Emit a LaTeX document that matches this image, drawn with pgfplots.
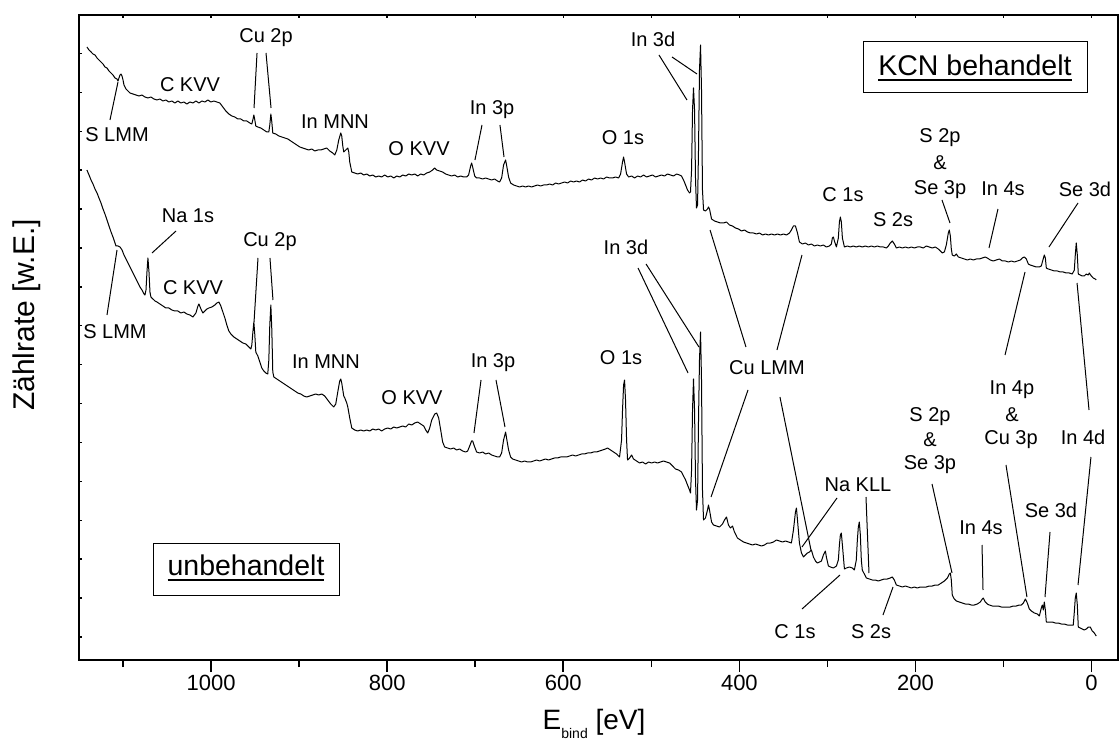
\documentclass[border=0pt]{standalone}
\usepackage{fontspec}
\setmainfont{Liberation Sans}
\usepackage{pgfplots}
\pgfplotsset{compat=1.18}
\newcommand\ann{\fontsize{20}{24}\selectfont}
\newcommand\ul[1]{\setbox0\hbox{#1}\rlap{\rule[-5pt]{\wd0}{2pt}}\box0}
\begin{document}
\begin{tikzpicture}
\path[use as bounding box] (0,0) rectangle (1119pt,742pt);
\begin{axis}[at={(79pt,82pt)}, anchor=south west, scale only axis,
  width=1039pt, height=645pt,
  xmin=-30, xmax=1150, ymin=0, ymax=645, x dir=reverse,
  axis line style={line width=1.6pt},
  xtick={0,200,400,600,800,1000}, minor xtick={100,300,500,700,900,1100},
  xtick pos=left, ytick=\empty,
  tick align=outside, major tick length=12pt, minor tick length=7pt,
  tick style={line width=1.6pt, black},
  xticklabel style={font=\fontsize{22}{26}\selectfont},
  /pgf/number format/1000 sep={}, /pgf/number format/assume math mode=true,
  xlabel={E\raisebox{-8.5pt}{\fontsize{14}{14}\selectfont bind} [eV]},
  xlabel style={font=\fontsize{28}{32}\selectfont, at={(axis description cs:0.4957,-0.1085)}, anchor=base},
  ylabel={Zählrate [w.E.]},
  ylabel style={font=\fontsize{30}{34}\selectfont, at={(axis description cs:-0.050,0.535)}, anchor=center},
  clip=false]
% KCN behandelt
\addplot[black, line width=1pt, line join=round] coordinates {
(1141,613)(1138.6,610)(1136.3,608)(1134.1,606)(1131.8,605)(1129.5,602)(1127.3,600)(1125.0,598)(1122.7,596)(1120.5,593)(1118.2,592)(1115.9,589)(1113.6,587)(1111.4,585)(1109.1,582)(1106.8,581)(1105.7,579)(1104.6,582)(1103.4,585)(1102.3,586)(1101.1,584)(1100.0,580)(1098.9,575)(1096.6,571)(1094.3,569)(1092.1,567)
(1088.7,566)(1085.3,565)(1081.9,564)(1078.5,565)(1075.1,563)(1071.7,562)(1068.3,563)(1064.9,561)(1061.5,560)(1058.1,561)(1054.7,559)(1051.3,560)(1047.9,558)(1044.5,559)(1041.1,557)(1037.7,559)(1034.3,557)(1030.9,558)(1027.5,556)(1024.0,558)(1020.6,557)(1017.2,559)(1013.8,557)(1010.4,559)(1007.0,558)(1003.6,560)(1000.2,558)(996.8,559)(993.4,558)(990.0,557)
(986.6,553)(983.2,549)(979.8,546)(976.4,544)(973.0,543)(969.6,541)(966.2,541)(962.8,539)(959.4,539)(956.0,537)(953.7,536)(952.6,540)(951.4,545)(950.3,540)(949.2,534)(946.9,533)(943.5,532)(940.1,530)(936.7,528)(934.4,528)(933.3,535)(932.1,546)(931.0,538)(929.9,527)
(926.5,526)(923.0,524)(919.6,523)(916.2,522)(912.8,521)(909.4,519)(906.0,517)(902.6,515)(899.2,513)(895.8,512)(892.4,511)(889.0,510)(885.6,511)(882.2,509)(878.8,510)(875.4,510)(872.0,511)(868.6,512)(865.2,509)(861.8,507)(859.5,505)(857.2,510)(855.0,520)(852.7,527)(851.6,524)(850.4,514)(849.3,508)(847.0,510)(844.7,512)(843.6,508)(842.5,498)(840.2,488)
(836.8,487)(833.4,486)(830.0,487)(826.6,485)(823.2,486)(819.8,484)(816.4,485)(813.0,483)(809.6,484)(806.2,483)(802.8,485)(799.3,483)(795.9,484)(792.5,482)(789.1,484)(785.7,483)(782.3,485)(778.9,484)(775.5,486)(772.1,485)(768.7,486)(765.3,484)(761.9,486)(758.5,485)(755.1,487)(751.7,488)(748.3,490)(746.0,492)(743.8,490)(740.4,489)(737.0,488)(733.6,486)(730.2,485)(726.8,484)(723.3,485)(719.9,483)(716.5,484)(713.1,483)(709.7,483)(707.5,485)(705.2,494)(704.1,497)(702.9,493)(700.6,484)(698.4,482)
(695.0,482)(691.6,481)(688.2,482)(684.8,481)(681.4,480)(678.0,481)(674.6,479)(672.3,478)(670.0,482)(667.8,495)(665.5,500)(664.4,495)(662.1,483)(659.8,477)(656.4,475)(653.0,474)(649.6,473)(646.2,474)(642.8,473)(639.4,474)(636.0,473)(632.6,474)(629.2,475)(625.7,474)(622.3,475)(618.9,475)(615.5,476)(612.1,475)(608.7,477)(605.3,476)(601.9,477)(598.5,478)(595.1,477)(591.7,479)(588.3,478)(584.9,479)(581.5,478)(578.1,480)(574.7,479)(571.3,481)(567.9,480)(564.5,482)(561.0,481)(557.6,482)(554.2,481)(550.8,483)(547.4,482)(544.0,482)(540.6,483)(537.2,482)(534.9,486)(532.7,498)(531.5,503)(530.4,498)(528.1,486)(525.8,483)
(522.4,484)(519.0,482)(515.6,484)(512.2,483)(508.8,485)(505.4,483)(502.0,484)(498.6,485)(495.2,483)(491.8,484)(488.4,485)(485.0,484)(481.6,486)(478.2,485)(474.8,484)(471.3,486)(467.9,485)(465.7,484)(463.4,480)(461.1,475)(458.9,470)(456.6,467)(455.5,468)(454.3,490)(453.2,550)(452.1,572)(450.9,550)(449.8,480)(448.7,452)(447.5,455)(446.4,510)(445.3,590)(444.1,615)(443.0,570)(441.9,470)(440.7,450)(438.5,449)(436.2,451)(435.1,453)(433.9,451)(431.6,441)
(428.2,439)(424.8,438)(421.4,437)(418.0,437)(414.6,438)(411.2,435)(407.8,434)(404.4,432)(401.0,431)(397.6,429)(394.2,430)(390.8,428)(387.4,427)(384.0,427)(380.6,426)(377.2,427)(373.7,425)(370.3,426)(366.9,425)(363.5,426)(360.1,425)(356.7,426)(353.3,425)(349.9,426)(346.5,425)(343.1,427)(340.9,430)(338.6,434)(336.3,434)(334.0,427)(331.8,418)
(328.4,416)(325.0,417)(321.6,415)(318.2,416)(314.8,414)(311.4,415)(308.0,414)(304.6,415)(301.2,413)(297.8,414)(295.5,416)(294.4,422)(293.2,423)(292.1,419)(289.8,413)(287.6,422)(286.4,438)(285.3,443)(284.2,438)(283.0,422)(280.7,413)
(277.4,414)(274.0,413)(270.6,414)(267.2,413)(263.8,414)(260.4,413)(257.0,414)(253.5,413)(250.1,414)(246.7,413)(243.3,414)(239.9,413)(236.5,413)(233.1,412)(230.8,414)(228.6,417)(226.3,419)(224.0,416)(221.7,412)(218.3,413)(214.9,412)(211.5,413)(208.1,412)(204.7,413)(201.3,412)(197.9,413)(194.5,413)(191.1,412)(187.7,414)(184.3,413)(180.9,412)(177.5,413)(174.1,411)(171.8,409)(169.5,407)(167.2,408)(165.0,415)(162.7,427)(161.6,430)(160.4,424)(159.3,411)(158.2,405)
(155.9,404)(153.6,406)(151.3,403)(147.9,402)(144.5,401)(141.1,400)(137.7,401)(134.3,400)(130.9,401)(127.5,401)(124.1,402)(120.7,403)(118.4,402)(115.0,400)(111.6,399)(108.2,400)(104.7,401)(101.3,399)(97.9,399)(94.5,398)(91.1,399)(87.7,398)(84.3,399)(80.9,400)(78.7,402)(76.4,403)(74.1,401)(71.8,396)(69.6,395)(66.2,394)(62.8,393)(59.3,393)(57.1,394)(55.9,398)(53.7,405)(52.5,402)(51.4,392)
(49.1,391)(45.7,390)(42.3,389)(38.9,389)(35.5,388)(32.1,388)(28.7,387)(25.3,387)(21.9,386)(19.6,390)(18.5,405)(17.4,417)(16.2,405)(15.1,386)(12.8,385)(10.6,384)(8.3,384)(6.0,386)(3.7,385)(2.6,387)(0.3,384)(-1.9,382)(-4.2,381)(-5.3,380)
};
% unbehandelt
\addplot[black, line width=1pt, line join=round] coordinates {
(1141,490)(1138.6,485)(1136.3,480)(1134.1,476)(1131.8,471)(1129.5,467)(1127.3,462)(1125.0,457)(1122.7,451)(1120.5,446)(1118.2,440)(1115.9,434)(1113.6,428)(1111.4,423)(1109.1,417)(1108.0,414)(1105.7,414)(1103.4,413)(1101.1,410)(1098.9,405)(1096.6,401)(1094.3,397)(1092.1,393)(1089.8,389)(1087.5,385)(1085.3,381)(1083.0,377)(1080.7,373)(1078.5,370)(1076.2,366)(1075.1,365)(1073.9,370)(1072.8,388)(1071.7,402)(1070.5,388)(1069.4,368)(1068.3,363)
(1066.0,361)(1063.7,359)(1061.5,358)(1058.1,356)(1054.7,354)(1051.3,352)(1047.9,352)(1044.5,350)(1041.1,349)(1037.7,349)(1034.3,347)(1030.9,348)(1027.5,346)(1024.0,345)(1020.6,343)(1017.2,347)(1014.9,354)(1013.8,356)(1011.5,351)(1009.3,347)(1007.0,349)(1004.7,351)(1002.5,352)(999.1,353)(995.7,355)(993.4,357)(991.1,358)(988.9,354)(986.6,348)(984.3,342)(982.1,335)(979.8,329)(977.5,326)(974.1,323)(970.7,321)(967.3,319)(963.9,317)(960.5,316)(957.1,313)(954.8,311)(953.7,315)(952.6,327)(951.4,338)(950.3,325)(949.2,308)
(946.9,304)(944.6,298)(942.4,292)(940.1,289)(937.8,287)(935.6,286)(934.4,300)(933.3,335)(932.1,355)(931.0,330)(929.9,288)(928.7,283)(925.3,281)(921.9,279)(918.5,277)(915.1,275)(911.7,273)(908.3,271)(904.9,269)(901.5,267)(898.1,266)(894.7,264)(891.3,263)(887.9,264)(884.5,265)(881.1,266)(877.7,265)(874.3,266)(870.9,264)(867.5,260)(864.1,256)(860.7,253)(858.4,256)(856.1,268)(853.9,279)(852.7,281)(851.6,277)(849.3,264)(848.1,262)(845.9,257)(844.7,253)(842.5,242)(840.2,232)
(836.8,230)(833.4,229)(830.0,230)(826.6,229)(823.2,230)(819.8,229)(816.4,231)(813.0,230)(809.6,231)(806.2,229)(802.8,231)(799.3,232)(795.9,231)(792.5,233)(789.1,232)(785.7,233)(782.3,234)(778.9,233)(775.5,236)(772.1,235)(768.7,237)(765.3,238)(761.9,236)(758.5,234)(756.2,230)(753.9,227)(751.7,232)(749.4,240)(746.0,246)(743.8,247)(741.5,242)(739.2,230)(737.0,218)(734.7,213)(731.3,212)(727.9,211)(724.5,212)(721.1,210)(717.7,211)(714.3,209)(710.9,208)(708.6,209)(706.3,214)(704.1,219)(702.9,219)(700.6,213)(698.4,208)
(695.0,207)(691.6,208)(688.2,206)(684.8,207)(681.4,205)(678.0,204)(674.6,203)(672.3,203)(670.0,207)(667.8,220)(665.5,228)(664.4,222)(662.1,210)(659.8,203)(657.5,201)(654.1,200)(650.7,199)(647.3,198)(643.9,199)(640.5,198)(637.1,198)(633.7,199)(630.3,200)(626.9,199)(623.5,200)(620.1,201)(616.7,200)(613.3,201)(609.9,202)(606.5,202)(603.1,203)(599.6,203)(596.2,203)(592.8,204)(589.4,205)(586.0,204)(582.6,205)(579.2,206)(575.8,206)(572.4,207)(569.0,207)(565.6,208)(562.2,208)(558.8,209)(555.4,210)(552.0,211)(549.7,212)(546.3,210)(542.9,208)(539.5,206)(536.1,203)(533.8,220)(532.7,250)(531.5,275)(530.4,280)(529.3,260)(528.1,220)(527.0,200)
(524.7,202)(522.4,205)(520.2,201)(516.8,199)(513.4,197)(510.0,198)(506.5,196)(503.1,198)(499.7,197)(496.3,198)(492.9,197)(489.5,198)(486.1,199)(482.7,198)(479.3,197)(475.9,194)(472.5,191)(469.1,190)(465.7,188)(463.4,184)(461.1,180)(458.9,175)(456.6,170)(455.5,167)(454.3,190)(453.2,250)(452.1,281)(450.9,250)(449.8,180)(448.7,150)(447.5,160)(446.4,240)(445.3,300)(444.1,328)(443.0,280)(441.9,170)(440.7,140)(438.5,142)(436.2,150)(435.1,155)(433.9,150)(431.6,138)
(429.4,135)(426.0,134)(422.6,133)(419.2,136)(416.9,140)(414.6,143)(412.4,135)(410.1,132)(407.8,134)(405.6,128)(402.2,122)(398.8,120)(395.3,118)(391.9,117)(388.5,116)(385.1,115)(381.7,116)(378.3,115)(374.9,114)(371.5,115)(368.1,117)(364.7,117)(361.3,118)(357.9,120)(354.5,119)(351.1,118)(347.7,119)(344.2,118)(340.9,117)(338.6,130)(336.3,148)(335.2,152)(334.0,140)(331.8,117)
(329.5,107)(327.2,103)(325.0,105)(322.7,107)(320.4,108)(318.2,110)(315.9,103)(313.6,99)(311.4,97)(309.1,98)(306.8,99)(304.6,105)(302.3,109)(301.2,103)(298.9,94)(296.6,93)(293.2,92)(289.8,94)(287.6,100)(286.4,115)(285.3,125)(284.2,127)(283.0,115)(280.7,91)(278.5,92)(275.1,93)(271.7,92)(269.4,90)(267.2,100)(266.0,120)(264.9,133)(263.8,138)(262.6,125)(261.5,100)(260.4,90)
(258.1,86)(255.8,82)(252.4,81)(249.0,80)(245.6,80)(242.2,79)(238.8,80)(235.4,81)(232.0,81)(228.6,82)(226.3,83)(224.0,80)(221.7,75)(218.3,74)(214.9,73)(211.5,74)(208.1,73)(204.7,72)(201.3,73)(197.9,72)(194.5,73)(191.1,73)(187.7,73)(184.3,74)(180.9,74)(177.5,75)(174.1,75)(170.6,77)(167.2,79)(163.8,82)(161.6,86)(160.4,87)(159.3,80)(158.2,65)
(155.9,61)(153.6,59)(150.2,58)(146.8,57)(143.4,56)(140.0,56)(136.6,55)(133.2,55)(129.8,56)(126.4,58)(124.1,61)(123.0,62)(120.7,58)(118.4,56)(116.1,55)(112.7,54)(109.3,54)(105.9,54)(102.5,53)(99.1,53)(95.7,53)(92.3,53)(88.9,54)(85.5,54)(82.1,55)(79.8,55)(77.5,57)(75.2,61)(73.0,57)(70.7,51)(68.4,49)(65.0,47)(61.6,46)(59.3,44)(57.1,52)(55.9,55)(54.8,50)(53.7,58)(52.5,50)(51.4,38)
(48.0,38)(44.6,38)(41.2,37)(37.8,37)(34.4,36)(31.0,36)(27.6,35)(24.2,35)(20.8,35)(19.6,48)(18.5,62)(17.4,67)(16.2,55)(15.1,33)(12.8,32)(10.6,31)(8.3,30)(6.0,31)(3.7,33)(1.5,33)(-0.8,29)(-3.1,27)(-5.3,24)
};
% ---- annotations, upper spectrum
\begin{scope}[every node/.style={font=\ann, inner sep=0pt}, line width=1pt]
\node at (axis cs:937.6,622) {Cu 2p};
\draw (axis cs:947.8,607) -- (axis cs:951.2,552);
\draw (axis cs:937.6,607) -- (axis cs:931.9,552);
\node at (axis cs:1023.9,575) {C KVV};
\node at (axis cs:1106.8,525) {S LMM};
\draw (axis cs:1114.8,540) -- (axis cs:1105.7,578);
\node at (axis cs:859.2,538) {In MNN};
\node at (axis cs:763.8,511) {O KVV};
\node at (axis cs:680.9,550) {In 3p};
\draw (axis cs:692.3,535) -- (axis cs:700.3,500);
\draw (axis cs:671.9,535) -- (axis cs:667.3,503);
\node at (axis cs:532.2,522) {O 1s};
\node at (axis cs:498.1,621) {In 3d};
\draw (axis cs:491.3,605) -- (axis cs:459.5,560);
\draw (axis cs:476.5,603) -- (axis cs:448.1,586);
\node at (axis cs:282.3,465) {C 1s};
\node at (axis cs:225.5,440) {S 2s};
\node at (axis cs:172.1,522) {S 2p};
\node at (axis cs:172.1,497) {\&};
\node at (axis cs:172.1,470) {Se 3p};
\draw (axis cs:169.9,460) -- (axis cs:160.8,437);
\node at (axis cs:100.6,471) {In 4s};
\draw (axis cs:106.3,451) -- (axis cs:116.5,412);
\node at (axis cs:7.5,471) {Se 3d};
\draw (axis cs:15.4,457) -- (axis cs:48.4,413);
% ---- lower spectrum
\node at (axis cs:1026.2,444) {Na 1s};
\draw (axis cs:1039.8,429) -- (axis cs:1067.1,407);
\node at (axis cs:1020.5,372) {C KVV};
\node at (axis cs:933.1,418) {Cu 2p};
\draw (axis cs:946.7,402) -- (axis cs:951.2,338);
\draw (axis cs:933.1,402) -- (axis cs:929.7,360);
\node at (axis cs:1109.1,328) {S LMM};
\draw (axis cs:1118.2,345) -- (axis cs:1106.8,410);
\node at (axis cs:869.5,298) {In MNN};
\node at (axis cs:771.8,262) {O KVV};
\node at (axis cs:679.8,297) {In 3p};
\draw (axis cs:693.4,280) -- (axis cs:701.4,227);
\draw (axis cs:676.4,280) -- (axis cs:666.2,233);
\node at (axis cs:534.4,302) {O 1s};
\node at (axis cs:528.8,413) {In 3d};
\draw (axis cs:515.1,392) -- (axis cs:458.3,287);
\draw (axis cs:506.0,396) -- (axis cs:445.9,313);
\node at (axis cs:368.6,292) {Cu LMM};
\draw (axis cs:433.3,430) -- (axis cs:392.5,313);
\draw (axis cs:328.9,405) -- (axis cs:357.3,310);
\draw (axis cs:390.2,270) -- (axis cs:432.2,163);
\draw (axis cs:353.9,263) -- (axis cs:318.7,110);
\node at (axis cs:265.3,175) {Na KLL};
\draw (axis cs:289.1,162) -- (axis cs:328.9,113);
\draw (axis cs:256.2,163) -- (axis cs:252.8,87);
\node at (axis cs:183.5,243) {S 2p};
\node at (axis cs:183.5,220) {\&};
\node at (axis cs:183.5,195) {Se 3p};
\draw (axis cs:181.2,176) -- (axis cs:158.5,87);
\node at (axis cs:125.6,132) {In 4s};
\draw (axis cs:124.4,115) -- (axis cs:123.3,70);
\node at (axis cs:90.4,270) {In 4p};
\node at (axis cs:90.4,245) {\&};
\node at (axis cs:91.5,220) {Cu 3p};
\draw (axis cs:75.6,388) -- (axis cs:98.3,305);
\draw (axis cs:97.2,195) -- (axis cs:73.4,63);
\node at (axis cs:46.1,150) {Se 3d};
\draw (axis cs:47.2,128) -- (axis cs:52.9,63);
\node at (axis cs:9.7,223) {In 4d};
\draw (axis cs:16.5,377) -- (axis cs:2.9,250);
\draw (axis cs:0.7,203) -- (axis cs:15.4,75);
\node at (axis cs:336.8,28) {C 1s};
\draw (axis cs:328.9,51) -- (axis cs:285.7,85);
\node at (axis cs:250.5,28) {S 2s};
\draw (axis cs:236.9,45) -- (axis cs:225.5,73);
% boxes
\draw (axis cs:259.6,618) rectangle (axis cs:5.2,567);
\node[font=\fontsize{28.5}{32}\selectfont] at (axis cs:132.4,592) {\ul{KCN behandelt}};
\draw (axis cs:1065.9,117) rectangle (axis cs:854.7,65);
\node[font=\fontsize{28.5}{32}\selectfont] at (axis cs:960.3,92) {\ul{unbehandelt}};
\end{scope}
\end{axis}
% top and left small ticks
\begin{axis}[at={(79pt,82pt)}, anchor=south west, scale only axis,
  width=1039pt, height=645pt,
  xmin=-30, xmax=1150, ymin=0, ymax=645, x dir=reverse,
  axis line style={draw=none},
  xtick={0,200,400,600,800,1000}, minor xtick={100,300,500,700,900,1100},
  xtick pos=right, ytick pos=left,
  ytick={23,61.9,100.8,139.7,178.6,217.5,256.4,295.3,334.2,373.1,412,450.9,489.8,528.7,567.6,606.5},
  tick align=inside, major tick length=3pt, minor tick length=3pt,
  tick style={line width=1.4pt, black},
  xticklabels={}, yticklabels={}]
\addplot[draw=none] coordinates {(0,0)};
\end{axis}
\end{tikzpicture}
\end{document}
